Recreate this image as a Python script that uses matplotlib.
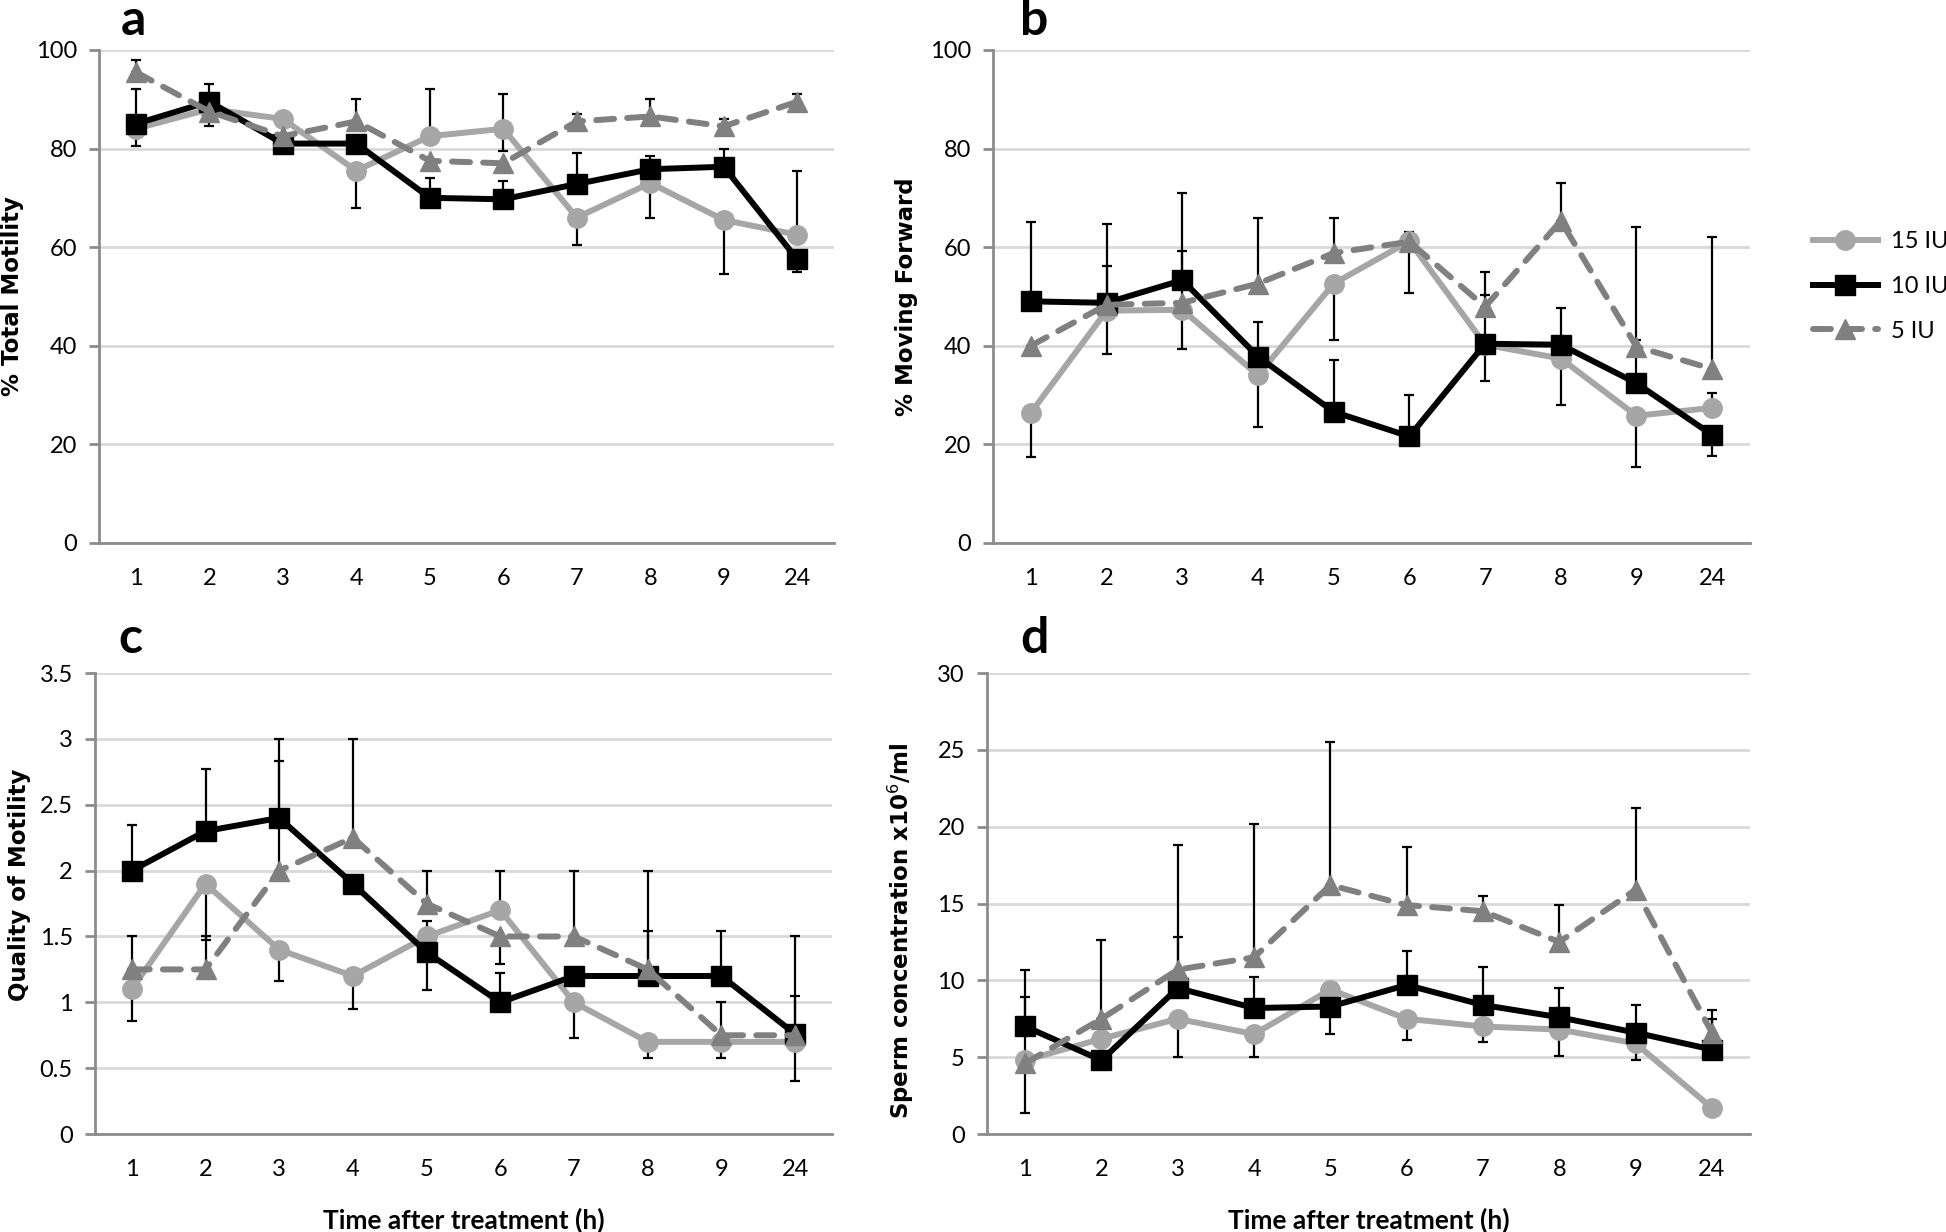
import numpy as np
import matplotlib
matplotlib.use("Agg")
import matplotlib.pyplot as plt

# categories (hours after treatment)
hours = ["1", "2", "3", "4", "5", "6", "7", "8", "9", "24"]
series_names = ["15 IU", "10 IU", "5 IU"]

# a - % Total Motility
a_15 = [84, 88, 86, 75.5, 82.5, 84, 66, 73, 65.5, 62.5]
a_10 = [85, 89.5, 81, 81, 70, 69.7, 72.8, 75.8, 76.3, 57.5]
a_5 = [95.5, 87.5, 82.5, 85.5, 77.5, 77, 85.5, 86.5, 84.5, 89.5]
a_15_lo = [0, 0, 0, 7.5, 0, 4.5, 5.5, 7, 11, 0]
a_15_hi = [0, 0, 0, 0, 9.5, 7, 0, 0, 0, 13]
a_10_lo = [4.5, 5, 0, 0, 0, 0, 0, 0, 0, 2.5]
a_10_hi = [7, 3.5, 0, 0, 4, 3.8, 6.2, 2.7, 3.7, 0]
a_5_lo = [0, 0, 0, 0, 0, 0, 0, 0, 0, 0]
a_5_hi = [2.5, 0, 0, 4.5, 0, 0, 1.5, 3.5, 1.5, 1.5]

# b - % Moving Forward
b_15 = [26.4, 47.1, 47.3, 34, 52.6, 61.2, 40.2, 37.4, 25.8, 27.4]
b_10 = [49, 48.7, 53.3, 37.8, 26.6, 21.6, 40.4, 40.2, 32.4, 21.9]
b_5 = [40, 48.3, 48.7, 52.6, 58.8, 61.1, 47.9, 65.3, 39.8, 35.3]
b_15_lo = [9, 8.7, 8, 10.5, 11.5, 10.6, 0, 9.5, 10.4, 0]
b_15_hi = [0, 9, 12, 0, 0, 0, 10, 0, 0, 3]
b_10_lo = [0, 0, 0, 0, 0, 0, 7.5, 0, 0, 4.2]
b_10_hi = [16, 16, 17.7, 7, 10.6, 8.4, 0, 7.5, 8.7, 0]
b_5_lo = [0, 0, 0, 0, 0, 0, 0, 0, 0, 0]
b_5_hi = [0, 0, 0, 13.4, 7.2, 2, 7, 7.7, 24.2, 26.8]

# c - Quality of Motility
c_15 = [1.1, 1.9, 1.4, 1.2, 1.5, 1.7, 1.0, 0.7, 0.7, 0.7]
c_10 = [2.0, 2.3, 2.4, 1.9, 1.38, 1.0, 1.2, 1.2, 1.2, 0.76]
c_5 = [1.25, 1.25, 2.0, 2.25, 1.75, 1.5, 1.5, 1.25, 0.75, 0.75]
c_15_lo = [0.24, 0.43, 0.24, 0.25, 0, 0, 0.27, 0.12, 0.12, 0.3]
c_15_hi = [0, 0, 0, 0, 0.12, 0.3, 0, 0, 0, 0]
c_10_lo = [0, 0, 0, 0, 0.29, 0, 0, 0, 0, 0]
c_10_hi = [0.35, 0.47, 0.43, 0, 0, 0.22, 0, 0.34, 0.34, 0.29]
c_5_lo = [0, 0, 0, 0, 0, 0.21, 0, 0, 0, 0]
c_5_hi = [0.25, 0.25, 1.0, 0.75, 0.25, 0, 0.5, 0.75, 0.25, 0.75]

# d - Sperm concentration x10^6/ml
d_15 = [4.8, 6.2, 7.5, 6.5, 9.4, 7.5, 7.0, 6.8, 5.9, 1.7]
d_10 = [7.0, 4.8, 9.5, 8.2, 8.3, 9.7, 8.4, 7.6, 6.6, 5.5]
d_5 = [4.6, 7.5, 10.7, 11.5, 16.2, 14.9, 14.5, 12.5, 15.9, 6.6]
d_15_lo = [0, 0, 2.5, 1.5, 0, 1.4, 1.0, 1.7, 1.1, 0]
d_15_hi = [4.1, 0, 0, 0, 0, 0, 0, 0, 0, 0]
d_10_lo = [0, 0, 0, 0, 1.8, 0, 0, 0, 0, 0]
d_10_hi = [3.7, 0, 3.3, 2.0, 0, 2.2, 2.5, 1.9, 1.8, 2.0]
d_5_lo = [3.2, 0, 0, 0, 0, 0, 0, 0, 0, 0]
d_5_hi = [0, 5.1, 8.1, 8.7, 9.3, 3.8, 1.0, 2.4, 5.3, 1.5]

narrow = ["Lato", "DejaVu Sans"]
colors = ["#A6A6A6", "#000000", "#808080"]
markers = ["o", "s", "^"]
styles = ["-", "-", "--"]

fig = plt.figure(figsize=(19.46, 12.32), dpi=100)

# letter, rect, values, errors, ylabel, yticks, yticklabels, xlabel, letter pos, ylabel pad, ylabel y
panels = [
    ("a", [0.0509, 0.5593, 0.3777, 0.4002], [a_15, a_10, a_5],
     [(a_15_lo, a_15_hi), (a_10_lo, a_10_hi), (a_5_lo, a_5_hi)],
     "% Total Motility", np.arange(0, 101, 20), ["0", "20", "40", "60", "80", "100"], None,
     (0.029, 1.03), 8, 0.5),
    ("b", [0.5103, 0.5593, 0.3890, 0.4002], [b_15, b_10, b_5],
     [(b_15_lo, b_15_hi), (b_10_lo, b_10_hi), (b_5_lo, b_5_hi)],
     "% Moving Forward", np.arange(0, 101, 20), ["0", "20", "40", "60", "80", "100"], None,
     (0.036, 1.03), 8, 0.5),
    ("c", [0.0488, 0.0795, 0.3787, 0.3742], [c_15, c_10, c_5],
     [(c_15_lo, c_15_hi), (c_10_lo, c_10_hi), (c_5_lo, c_5_hi)],
     "Quality of Motility", np.arange(0, 3.51, 0.5), ["0", "0.5", "1", "1.5", "2", "2.5", "3", "3.5"],
     "Time after treatment (h)", (0.032, 1.043), 6, 0.54),
    ("d", [0.5072, 0.0795, 0.3921, 0.3742], [d_15, d_10, d_5],
     [(d_15_lo, d_15_hi), (d_10_lo, d_10_hi), (d_5_lo, d_5_hi)],
     "Sperm concentration x10$^{6}$/ml", np.arange(0, 31, 5), ["0", "5", "10", "15", "20", "25", "30"],
     "Time after treatment (h)", (0.043, 1.043), 15, 0.44),
]

x = np.arange(len(hours))
for letter, rect, vals, errs, ylab, yt, ytl, xlab, lpos, ypad, ylaby in panels:
    ax = fig.add_axes(rect)
    handles = []
    for i in range(3):
        ax.errorbar(x, vals[i], yerr=[errs[i][0], errs[i][1]], fmt="none",
                    ecolor="black", elinewidth=1.6, capsize=3.8, capthick=1.6, zorder=2)
    for i in range(3):
        h, = ax.plot(x, vals[i], color=colors[i], linestyle=styles[i], linewidth=4.3,
                     marker=markers[i], markersize=14, dash_capstyle="round",
                     solid_joinstyle="round", zorder=3 + i, label=series_names[i])
        if i == 2:
            h.set_dashes([3, 2.2])
        handles.append(h)
    ax.set_xlim(-0.5, 9.5)
    ax.set_ylim(yt[0], yt[-1])
    ax.set_yticks(yt)
    ax.set_yticklabels(ytl, family=narrow, fontsize=17)
    ax.set_xticks(x)
    ax.set_xticklabels(hours, family=narrow, fontsize=17)
    ax.yaxis.grid(True, color="#D9D9D9", linewidth=2)
    ax.set_axisbelow(True)
    for s in ["top", "right"]:
        ax.spines[s].set_visible(False)
    for s in ["left", "bottom"]:
        ax.spines[s].set_color("#8C8C8C")
        ax.spines[s].set_linewidth(2)
    ax.tick_params(axis="y", length=7, width=2, color="#8C8C8C", pad=9)
    ax.tick_params(axis="x", length=0, pad=18)
    ax.set_ylabel(ylab, fontsize=16.5, fontweight="bold", labelpad=ypad)
    ax.yaxis.label.set_y(ylaby)
    if xlab:
        ax.set_xlabel(xlab, family=narrow, fontsize=19, fontweight="bold", labelpad=20)
    ax.text(lpos[0], lpos[1], letter, transform=ax.transAxes, fontsize=36, fontweight="bold",
            family=narrow, va="baseline", ha="left")
    if letter == "b":
        ax.legend(handles=handles, loc="center left", bbox_to_anchor=(1.083, 0.52),
                  frameon=False, prop={"family": narrow, "size": 17},
                  borderaxespad=0, borderpad=0,
                  handlelength=2.75, handletextpad=0.55, labelspacing=1.0)

fig.savefig("out.png", dpi=100)
